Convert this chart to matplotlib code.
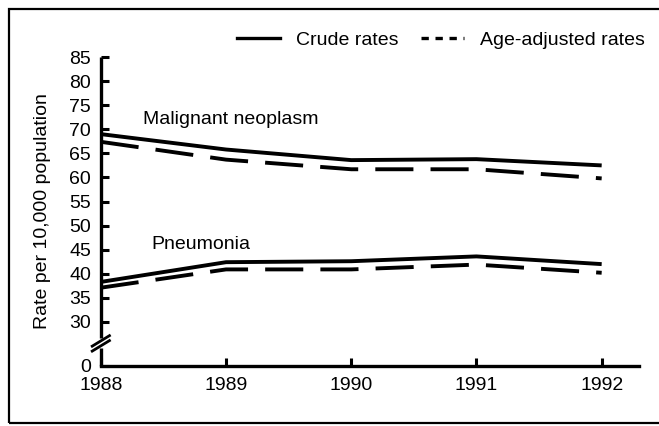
import matplotlib
matplotlib.use("Agg")
import matplotlib.pyplot as plt
from matplotlib.lines import Line2D
from matplotlib.patches import Rectangle

plt.rcParams['font.family'] = ['Liberation Sans', 'DejaVu Sans']

years = [1988, 1989, 1990, 1991, 1992]
neo_crude = [69.0, 65.8, 63.6, 63.8, 62.5]
neo_adj = [67.4, 63.7, 61.7, 61.7, 59.8]
pneu_crude = [38.3, 42.4, 42.6, 43.6, 42.0]
pneu_adj = [37.1, 40.9, 40.9, 41.9, 40.2]

ytick_vals = [0, 30, 35, 40, 45, 50, 55, 60, 65, 70, 75, 80, 85]
# broken axis: 0 is drawn just below 30
zero_pos = 20.85
ytick_pos = [zero_pos] + ytick_vals[1:]

fig = plt.figure(figsize=(6.59, 4.26), dpi=100)
ax = fig.add_axes([0.153, 0.141, 0.817, 0.725])

dash = (9.8, 4.4)
ax.plot(years, neo_crude, color='black', lw=2.8, solid_capstyle='butt')
ax.plot(years, neo_adj, color='black', lw=2.8, dashes=dash)
ax.plot(years, pneu_crude, color='black', lw=2.8, solid_capstyle='butt')
ax.plot(years, pneu_adj, color='black', lw=2.8, dashes=dash)

ax.text(1988.34, 72, 'Malignant neoplasm', fontsize=14, va='center')
ax.text(1988.40, 46, 'Pneumonia', fontsize=14, va='center')

ax.set_xlim(1988, 1992.3)
ax.set_ylim(zero_pos, 85)
ax.set_xticks(years)
ax.set_xticklabels([str(y) for y in years])
ax.set_yticks(ytick_pos)
ax.set_yticklabels([str(v) for v in ytick_vals])

for s in ['top', 'right', 'left']:
    ax.spines[s].set_visible(False)
ax.spines['bottom'].set_linewidth(2.4)

# left spine drawn in two pieces with a gap for the break
ax.plot([0, 0], [0, 0.058], transform=ax.transAxes, color='black', lw=2.4,
        clip_on=False, solid_capstyle='butt')
ax.plot([0, 0], [0.091, 1.0], transform=ax.transAxes, color='black', lw=2.4,
        clip_on=False, solid_capstyle='butt')

ax.tick_params(axis='both', direction='in', length=6, width=2.2, labelsize=14)
ax.tick_params(axis='y', pad=7)
ax.tick_params(axis='x', pad=8)

ax.set_ylabel('Rate per 10,000 population', fontsize=14, labelpad=13)

# break marks on the y axis
for yc in (0.081, 0.065):
    ax.plot([-0.016, 0.016], [yc - 0.017, yc + 0.017], transform=ax.transAxes,
            color='black', lw=2.0, clip_on=False)

handles = [Line2D([], [], color='black', lw=2.4),
           Line2D([], [], color='black', lw=2.4, dashes=(2.2, 2.0))]
fig.legend(handles, ['Crude rates', 'Age-adjusted rates'], loc='center',
           bbox_to_anchor=(0.669, 0.906), ncol=2, frameon=False, fontsize=14,
           handlelength=2.2, handletextpad=0.8, columnspacing=1.2)

fig.patches.append(Rectangle((0.0137, 0.007), 1.2, 0.972, transform=fig.transFigure,
                             fill=False, lw=1.6, edgecolor='black'))

fig.savefig('out.png', dpi=100)
